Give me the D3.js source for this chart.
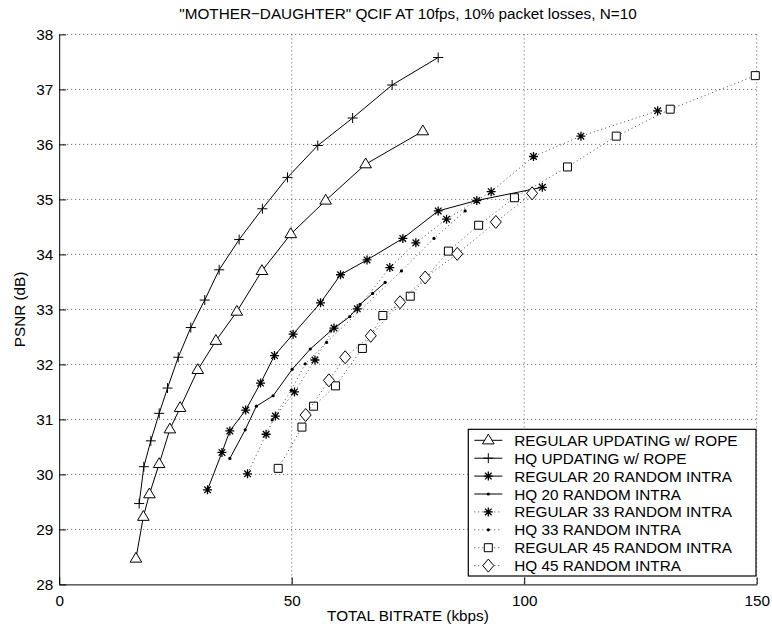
<!DOCTYPE html>
<html>
<head>
<meta charset="utf-8">
<script src="https://cdn.jsdelivr.net/npm/d3@7"></script>
<style>
  body { margin: 0; background: #fff; }
  svg { font-family: "Liberation Sans", Arial, Helvetica, sans-serif; }
  .grid line { stroke: #555; stroke-dasharray: 1,3; }
  .axis path, .axis line { stroke: #000; }
  .axis text { font-size: 15.3px; fill: #000; }
</style>
</head>
<body>
<svg id="chart" width="772" height="629"></svg>
<script>
var xTicks = [0, 50, 100, 150];
var yTicks = [28, 29, 30, 31, 32, 33, 34, 35, 36, 37, 38];

var regRopeX = [16.5, 18.1, 19.4, 21.5, 23.8, 26.0, 29.8, 33.7, 38.2, 43.6, 49.8, 57.3, 65.9, 78.2];
var regRopeY = [28.47, 29.23, 29.64, 30.19, 30.82, 31.21, 31.90, 32.43, 32.96, 33.70, 34.37, 34.98, 35.64, 36.24];

var hqRopeX = [17.2, 18.2, 19.7, 21.5, 23.3, 25.6, 28.3, 31.3, 34.4, 38.7, 43.7, 49.1, 55.6, 63.1, 71.6, 81.5];
var hqRopeY = [29.47, 30.14, 30.61, 31.11, 31.57, 32.13, 32.67, 33.17, 33.72, 34.27, 34.83, 35.40, 35.98, 36.48, 37.08, 37.58];

var reg20X = [31.9, 35.0, 36.7, 40.1, 43.3, 46.3, 50.3, 56.2, 60.5, 66.2, 73.9, 81.5, 89.8, 103.9];
var reg20Y = [29.72, 30.40, 30.79, 31.17, 31.66, 32.16, 32.55, 33.12, 33.63, 33.90, 34.29, 34.79, 34.98, 35.22];

var hq20X = [36.7, 40.0, 42.4, 46.0, 50.1, 54.0, 58.4, 62.5, 64.7, 67.4, 70.1];
var hq20Y = [30.29, 30.81, 31.24, 31.43, 31.91, 32.28, 32.61, 32.87, 33.09, 33.29, 33.49];

var reg33X = [40.5, 44.5, 46.5, 50.6, 55.0, 59.1, 64.1, 71.1, 76.7, 83.3, 92.9, 102.0, 112.2, 128.7];
var reg33Y = [30.01, 30.73, 31.06, 31.50, 32.08, 32.66, 33.01, 33.76, 34.21, 34.64, 35.14, 35.78, 36.15, 36.61];

var hq33X = [45.8, 49.9, 52.9, 57.5, 73.6, 80.6, 87.3];
var hq33Y = [30.99, 31.53, 32.01, 32.40, 33.70, 34.29, 34.79];

var reg45X = [47.1, 52.2, 54.7, 59.4, 65.2, 69.6, 75.5, 83.7, 90.2, 97.9, 109.3, 119.8, 131.4, 149.7];
var reg45Y = [30.11, 30.86, 31.24, 31.61, 32.29, 32.89, 33.24, 34.06, 34.53, 35.03, 35.59, 36.15, 36.64, 37.25];

var hq45X = [53.0, 58.0, 61.5, 67.0, 73.3, 78.7, 85.6, 93.9, 101.7];
var hq45Y = [31.08, 31.71, 32.13, 32.52, 33.13, 33.58, 34.01, 34.59, 35.11];

var seriesNames = [
    "REGULAR UPDATING w/ ROPE", "HQ UPDATING w/ ROPE",
    "REGULAR 20 RANDOM INTRA", "HQ 20 RANDOM INTRA",
    "REGULAR 33 RANDOM INTRA", "HQ 33 RANDOM INTRA",
    "REGULAR 45 RANDOM INTRA", "HQ 45 RANDOM INTRA"
];

var zip = function(xs, ys) {
    return xs.map(function(x, i) { return {x: x, y: ys[i]}; });
};

var series = [
    {name: seriesNames[0], data: zip(regRopeX, regRopeY), marker: "triangle", dotted: false},
    {name: seriesNames[1], data: zip(hqRopeX, hqRopeY), marker: "plus", dotted: false},
    {name: seriesNames[2], data: zip(reg20X, reg20Y), marker: "star", dotted: false},
    {name: seriesNames[3], data: zip(hq20X, hq20Y), marker: "dot", dotted: false},
    {name: seriesNames[4], data: zip(reg33X, reg33Y), marker: "star", dotted: true},
    {name: seriesNames[5], data: zip(hq33X, hq33Y), marker: "dot", dotted: true},
    {name: seriesNames[6], data: zip(reg45X, reg45Y), marker: "square", dotted: true},
    {name: seriesNames[7], data: zip(hq45X, hq45Y), marker: "diamond", dotted: true}
];

var margin = {top: 34.4, right: 15.3, bottom: 44.6, left: 59.2};
var width = 772 - margin.left - margin.right,
    height = 629 - margin.top - margin.bottom;

var xScale = d3.scaleLinear().domain([0, 150]).range([0, width]);
var yScale = d3.scaleLinear().domain([28, 38]).range([height, 0]);

var svg = d3.select("#chart")
    .append("g")
    .attr("transform", "translate(" + margin.left + "," + margin.top + ")");

// dotted grid
var grid = svg.append("g").attr("class", "grid");
grid.selectAll(".gx").data(xTicks.slice(1)).enter().append("line")
    .attr("x1", function(d) { return xScale(d); })
    .attr("x2", function(d) { return xScale(d); })
    .attr("y1", 0).attr("y2", height);
grid.selectAll(".gy").data(yTicks.slice(1)).enter().append("line")
    .attr("x1", 0).attr("x2", width)
    .attr("y1", function(d) { return yScale(d); })
    .attr("y2", function(d) { return yScale(d); });

var xAxis = d3.axisBottom(xScale).tickValues(xTicks).tickSize(-7).tickPadding(11).tickSizeOuter(0);
var yAxis = d3.axisLeft(yScale).tickValues(yTicks).tickSize(-7).tickPadding(6).tickSizeOuter(0);

svg.append("g")
    .attr("class", "x axis")
    .attr("transform", "translate(0," + height + ")")
    .call(xAxis);

svg.append("g")
    .attr("class", "y axis")
    .call(yAxis);

// marker shapes
var markerPath = function(type) {
    if (type == "triangle") {
        return "M0,-6.2L5.8,3.6L-5.8,3.6Z";
    }
    else if (type == "plus") {
        return "M-5,0L5,0M0,-5L0,5";
    }
    else if (type == "star") {
        return "M-4.5,0L4.5,0M0,-4.5L0,4.5M-3.3,-3.3L3.3,3.3M-3.3,3.3L3.3,-3.3";
    }
    else if (type == "square") {
        return "M-4,-4L4,-4L4,4L-4,4Z";
    }
    else if (type == "diamond") {
        return "M0,-6.5L5.5,0L0,6.5L-5.5,0Z";
    }
    return null;
};

var line = d3.line()
    .x(function(d) { return xScale(d.x); })
    .y(function(d) { return yScale(d.y); });

series.forEach(function(s) {
    svg.append("path")
        .datum(s.data)
        .attr("d", line)
        .attr("fill", "none")
        .attr("stroke", s.dotted ? "#444" : "#000")
        .attr("stroke-width", 1)
        .attr("stroke-dasharray", s.dotted ? "1,3" : null);

    var g = svg.append("g");
    if (s.marker == "dot") {
        g.selectAll("circle").data(s.data).enter().append("circle")
            .attr("cx", function(d) { return xScale(d.x); })
            .attr("cy", function(d) { return yScale(d.y); })
            .attr("r", 1.6)
            .attr("fill", "#000");
    }
    else {
        g.selectAll("path").data(s.data).enter().append("path")
            .attr("transform", function(d) { return "translate(" + xScale(d.x) + "," + yScale(d.y) + ")"; })
            .attr("d", markerPath(s.marker))
            .attr("fill", s.marker == "star" || s.marker == "plus" ? "none" : "#fff")
            .attr("stroke", "#000")
            .attr("stroke-width", s.marker == "star" ? 1.3 : 1);
    }
});

// legend
var legend = svg.append("g")
    .attr("transform", "translate(" + (468.3 - margin.left) + "," + (429.3 - margin.top) + ")");

legend.append("rect")
    .attr("width", 287.7)
    .attr("height", 146.7)
    .attr("fill", "#fff")
    .attr("stroke", "#000")
    .attr("stroke-width", 1.2);

series.forEach(function(s, i) {
    var row = legend.append("g")
        .attr("transform", "translate(0," + (11 + i * 17.9) + ")");
    row.append("line")
        .attr("x1", 6).attr("x2", 34)
        .attr("stroke", s.dotted ? "#444" : "#000")
        .attr("stroke-dasharray", s.dotted ? "1,3" : null);
    if (s.marker == "dot") {
        row.append("circle").attr("cx", 20).attr("r", 1.6).attr("fill", "#000");
    }
    else {
        row.append("path")
            .attr("transform", "translate(20,0)")
            .attr("d", markerPath(s.marker))
            .attr("fill", s.marker == "star" || s.marker == "plus" ? "none" : "#fff")
            .attr("stroke", "#000")
            .attr("stroke-width", s.marker == "star" ? 1.3 : 1);
    }
    row.append("text")
        .attr("x", 46)
        .attr("y", 5.5)
        .attr("font-size", "15.3px")
        .text(s.name);
});

// labels
svg.append("text")
    .attr("x", width / 2)
    .attr("y", -15)
    .attr("text-anchor", "middle")
    .attr("font-size", "15.3px")
    .text("\"MOTHER\u2212DAUGHTER\" QCIF AT 10fps, 10% packet losses, N=10");

svg.append("text")
    .attr("x", width / 2)
    .attr("y", height + 37)
    .attr("text-anchor", "middle")
    .attr("font-size", "15.3px")
    .text("TOTAL BITRATE (kbps)");

svg.append("text")
    .attr("transform", "translate(" + (25 - margin.left) + "," + (height / 2) + ") rotate(-90)")
    .attr("text-anchor", "middle")
    .attr("font-size", "15.3px")
    .text("PSNR (dB)");
</script>
</body>
</html>
